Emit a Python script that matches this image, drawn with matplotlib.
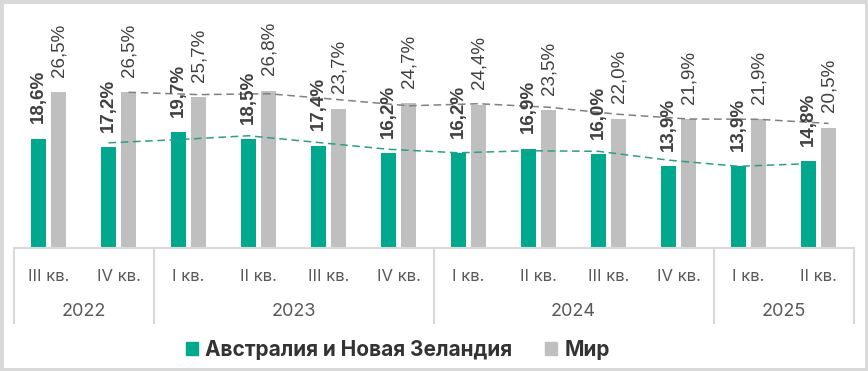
import numpy as np
import matplotlib
matplotlib.use('Agg')
import matplotlib.pyplot as plt
from matplotlib.patches import Patch, Rectangle
import matplotlib.transforms as mtransforms

# data
quarters = ['III кв.', 'IV кв.', 'I кв.', 'II кв.', 'III кв.', 'IV кв.',
            'I кв.', 'II кв.', 'III кв.', 'IV кв.', 'I кв.', 'II кв.']
years = ['2022', '2023', '2024', '2025']
year_sizes = [2, 4, 4, 2]
anz = [18.6, 17.2, 19.7, 18.5, 17.4, 16.2, 16.2, 16.9, 16.0, 13.9, 13.9, 14.8]
world = [26.5, 26.5, 25.7, 26.8, 23.7, 24.7, 24.4, 23.5, 22.0, 21.9, 21.9, 20.5]
series_names = ['Австралия и Новая Зеландия', 'Мир']

green = '#00A88E'
grey = '#BFBFBF'
txt = '#404040'

W, H = 868, 371
fig = plt.figure(figsize=(W / 100, H / 100), dpi=100)
ax = fig.add_axes([13.5 / W, (H - 248) / H, 840 / W, 238 / H])

x = np.arange(len(quarters))
bw = 0.214
off = 0.143
ax.bar(x - off, anz, bw, color=green)
ax.bar(x + off, world, bw, color=grey)

# 2-period moving average trendlines
ma_anz = [(anz[i - 1] + anz[i]) / 2 for i in range(1, len(anz))]
ma_world = [(world[i - 1] + world[i]) / 2 for i in range(1, len(world))]
ax.plot(x[1:] - off, ma_anz, color='#2E9E86', lw=1.1, ls=(0, (5, 3)))
ax.plot(x[1:] + off, ma_world, color='#808080', lw=1.1, ls=(0, (5, 3)))

def fmt(v):
    return f'{v:.1f}%'.replace('.', ',')

for i in x:
    ax.annotate(fmt(anz[i]), (i - off, anz[i]), xytext=(0, 11), textcoords='offset points',
                rotation=90, ha='center', va='bottom', fontsize=13.5, fontweight='bold',
                color=txt, family='Liberation Sans')
    ax.annotate(fmt(world[i]), (i + off, world[i]), xytext=(0, 11), textcoords='offset points',
                rotation=90, ha='center', va='bottom', fontsize=13.5,
                color=txt, family='Liberation Sans')

ax.set_xlim(-0.5, len(quarters) - 0.5)
ax.set_ylim(0, 40.5)
for s in ['top', 'right', 'left']:
    ax.spines[s].set_visible(False)
ax.spines['bottom'].set_color('#D9D9D9')
ax.spines['bottom'].set_linewidth(1.5)
ax.set_xticks([])
ax.set_yticks([])

trans = mtransforms.blended_transform_factory(ax.transData, ax.transAxes)
for i, q in enumerate(quarters):
    ax.text(i, -0.118, q, transform=trans, ha='center', va='center',
            fontsize=12, color='#595959', family='Inter')

start = -0.5
bounds = [start]
for y, n in zip(years, year_sizes):
    ax.text(start + n / 2, -0.265, y, transform=trans, ha='center', va='center',
            fontsize=13, color='#595959', family='Inter')
    start += n
    bounds.append(start)
for b in bounds:
    ax.plot([b, b], [0, -0.315], transform=trans, color='#D9D9D9', lw=1.5, clip_on=False)

handles = [Patch(color=green), Patch(color=grey)]
fig.legend(handles, series_names, loc='center', bbox_to_anchor=(398 / W, 1 - 350 / H),
           ncol=2, frameon=False, handlelength=0.55, handleheight=0.55, handletextpad=0.35,
           columnspacing=1.6, prop={'family': 'Inter', 'weight': 'bold', 'size': 15},
           labelcolor='#333333')

fig.patches.append(Rectangle((0, 0), 1, 1, transform=fig.transFigure, fill=False,
                             edgecolor='#D9D9D9', lw=5))

fig.savefig('out.png', dpi=100)
